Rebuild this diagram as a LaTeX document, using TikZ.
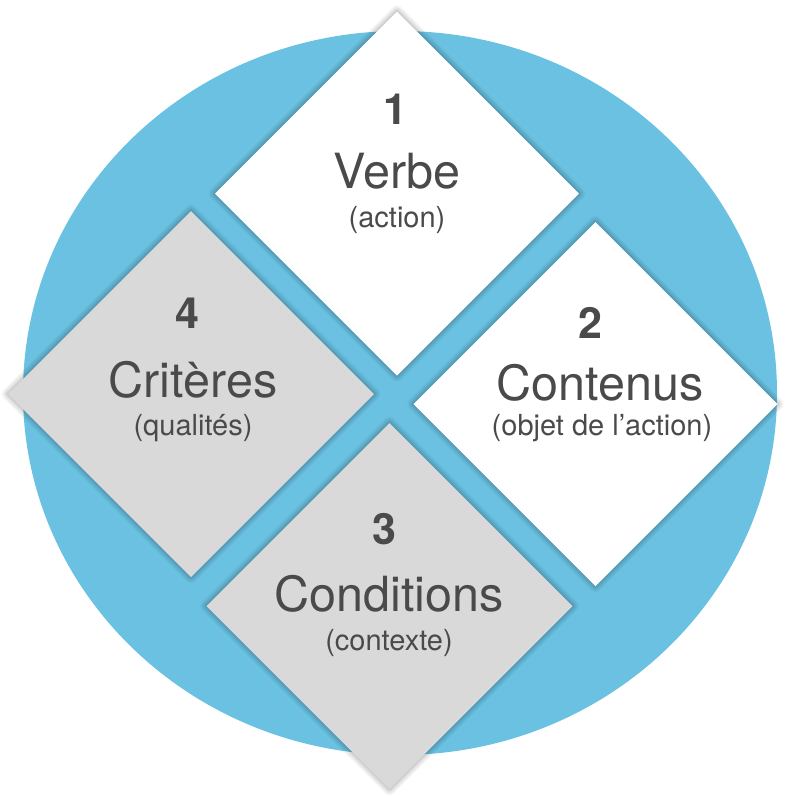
\documentclass[tikz,border=0pt]{standalone}
\usepackage{fontspec}
\setmainfont{TeX Gyre Heros}
\definecolor{cblue}{RGB}{106,193,225}
\definecolor{cgray}{RGB}{217,217,217}
\definecolor{ctext}{RGB}{74,74,74}
\tikzset{
  numtxt/.style={anchor=base, text=ctext, inner sep=0pt, font=\fontsize{43}{45}\selectfont\bfseries},
  maintxt/.style={anchor=base, text=ctext, inner sep=0pt, font=\fontsize{48.5}{50}\selectfont},
  subtxt/.style={anchor=base, text=ctext, inner sep=0pt, font=\fontsize{29}{31}\selectfont},
  halo/.style={draw=black, line join=round, draw opacity=0.045, line width=#1},
}
\newcommand{\diamondpath}[3]{(#1,#2-#3) -- (#1+#3,#2) -- (#1,#2+#3) -- (#1-#3,#2) -- cycle}
\newcommand{\drawdiamond}[4]{%
  \foreach \w in {12,9,6,4,2}{\draw[halo=\w pt] \diamondpath{#1}{#2}{#3};}
  \fill[#4] \diamondpath{#1}{#2}{#3};
}
\begin{document}
\begin{tikzpicture}[x=1pt,y=-1pt]
\useasboundingbox (0,0) rectangle (788,796);
\fill[cblue] (400,393) ellipse [x radius=377, y radius=362];
% diamonds
\drawdiamond{397}{193.5}{182}{white}
\drawdiamond{595.5}{404}{182}{white}
\drawdiamond{389.5}{606}{183}{cgray}
\drawdiamond{191}{394}{183}{cgray}
% texts
\node[numtxt]  (n1) at (395,124) {1};
\node[maintxt] (m1) at (397,188) {Verbe};
\node[subtxt]  (s1) at (397,227) {(action)};
\node[numtxt]  (n2) at (590,338) {2};
\node[maintxt] (m2) at (600,400) {Contenus};
\node[subtxt]  (s2) at (602,435) {(objet de l’action)};
\node[numtxt]  (n3) at (384,544) {3};
\node[maintxt] (m3) at (389,611) {Conditions};
\node[subtxt]  (s3) at (389,650) {(contexte)};
\node[numtxt]  (n4) at (187,328) {4};
\node[maintxt] (m4) at (193,397) {Critères};
\node[subtxt]  (s4) at (193,435) {(qualités)};
\end{tikzpicture}
\end{document}
